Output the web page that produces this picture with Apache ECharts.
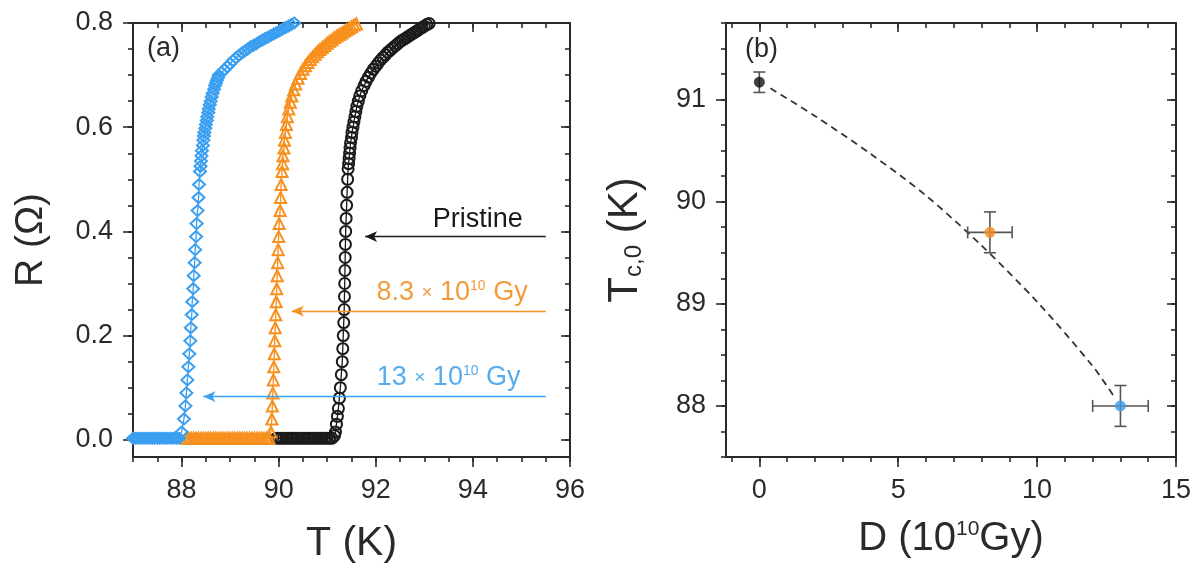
<!DOCTYPE html>
<html>
<head>
<meta charset="utf-8">
<title>R(T) and Tc,0 vs dose</title>
<script src="https://cdn.jsdelivr.net/npm/echarts@6/dist/echarts.min.js"></script>
<style>
  html, body { margin: 0; padding: 0; background: #fff; }
  #chart { width: 1197px; height: 571px; }
</style>
</head>
<body>
<div id="chart"></div>
<script>
// panel (a): R(T) curves, [T (K), R (Ohm)]
const pristine = [
  [89.95,0.003],[90.00,0.003],[90.05,0.003],[90.10,0.003],[90.15,0.003],[90.20,0.003],[90.25,0.003],[90.30,0.003],
  [90.35,0.003],[90.40,0.003],[90.45,0.003],[90.50,0.003],[90.55,0.003],[90.60,0.003],[90.65,0.003],[90.70,0.003],
  [90.75,0.003],[90.80,0.003],[90.85,0.003],[90.90,0.003],[90.95,0.003],[91.00,0.003],[91.05,0.003],[91.10,0.003],
  [91.15,0.008],[91.17,0.015],[91.19,0.03],[91.21,0.045],[91.23,0.06],[91.25,0.08],[91.27,0.10],[91.29,0.125],
  [91.31,0.15],[91.32,0.175],[91.33,0.20],[91.34,0.225],[91.35,0.25],[91.355,0.275],[91.36,0.30],[91.365,0.325],
  [91.37,0.35],[91.375,0.375],[91.38,0.40],[91.39,0.425],[91.40,0.45],[91.41,0.475],[91.42,0.50],[91.43,0.52],
  [91.44,0.53],[91.45,0.54],[91.46,0.55],[91.47,0.56],[91.48,0.57],[91.50,0.58],[91.51,0.59],[91.53,0.60],
  [91.55,0.61],[91.57,0.62],[91.59,0.63],[91.61,0.64],[91.64,0.65],[91.67,0.66],[91.71,0.67],[91.76,0.68],
  [91.80,0.688],[91.85,0.696],[91.90,0.704],[91.95,0.711],[92.00,0.717],[92.05,0.723],[92.10,0.729],[92.15,0.734],
  [92.20,0.739],[92.25,0.744],[92.30,0.748],[92.35,0.752],[92.40,0.756],[92.45,0.760],[92.50,0.764],[92.55,0.767],
  [92.60,0.770],[92.65,0.773],[92.70,0.776],[92.75,0.779],[92.80,0.782],[92.85,0.785],[92.90,0.788],[92.95,0.791],
  [93.00,0.794],[93.05,0.797],[93.10,0.799],[93.15,0.802],[93.20,0.804]
];
const dose83 = [
  [88.10,0.003],[88.15,0.003],[88.20,0.003],[88.25,0.003],[88.30,0.003],[88.35,0.003],[88.40,0.003],[88.45,0.003],
  [88.50,0.003],[88.55,0.003],[88.60,0.003],[88.65,0.003],[88.70,0.003],[88.75,0.003],[88.80,0.003],[88.85,0.003],
  [88.90,0.003],[88.95,0.003],[89.00,0.003],[89.05,0.003],[89.10,0.003],[89.15,0.003],[89.20,0.003],[89.25,0.003],
  [89.30,0.003],[89.35,0.003],[89.40,0.003],[89.45,0.003],[89.50,0.003],[89.55,0.003],[89.60,0.003],[89.65,0.003],
  [89.70,0.003],[89.75,0.003],[89.80,0.003],
  [89.84,0.015],[89.86,0.04],[89.87,0.065],[89.88,0.09],[89.89,0.115],[89.90,0.14],[89.91,0.165],[89.92,0.19],
  [89.93,0.215],[89.94,0.24],[89.95,0.265],[89.96,0.29],[89.97,0.315],[89.98,0.34],[89.99,0.365],[90.00,0.39],
  [90.01,0.415],[90.03,0.44],[90.04,0.465],[90.05,0.49],[90.07,0.515],[90.08,0.53],[90.09,0.545],[90.11,0.56],
  [90.12,0.575],[90.14,0.59],[90.16,0.605],[90.18,0.62],[90.21,0.635],[90.24,0.648],[90.27,0.66],[90.31,0.672],
  [90.35,0.683],[90.40,0.694],[90.45,0.703],[90.50,0.711],[90.55,0.718],[90.60,0.724],[90.65,0.730],[90.70,0.735],
  [90.75,0.740],[90.80,0.745],[90.85,0.749],[90.90,0.753],[90.95,0.757],[91.00,0.761],[91.05,0.765],[91.10,0.768],
  [91.15,0.772],[91.20,0.775],[91.25,0.778],[91.30,0.781],[91.35,0.784],[91.40,0.787],[91.45,0.790],[91.50,0.793],
  [91.55,0.796],[91.60,0.798],[91.65,0.801],[91.70,0.804]
];
const dose13 = [
  [87.00,0.003],[87.05,0.003],[87.10,0.003],[87.15,0.003],[87.20,0.003],[87.25,0.003],[87.30,0.003],[87.35,0.003],
  [87.40,0.003],[87.45,0.003],[87.50,0.003],[87.55,0.003],[87.60,0.003],[87.65,0.003],[87.70,0.003],[87.75,0.003],
  [87.80,0.003],[87.85,0.003],[87.90,0.003],[87.95,0.003],
  [88.00,0.015],[88.05,0.04],[88.08,0.065],[88.10,0.09],[88.12,0.115],[88.14,0.14],[88.16,0.165],[88.18,0.19],
  [88.19,0.215],[88.21,0.24],[88.22,0.265],[88.24,0.29],[88.25,0.315],[88.27,0.34],[88.28,0.365],[88.30,0.39],
  [88.31,0.415],[88.33,0.44],[88.35,0.465],[88.36,0.49],[88.38,0.515],[88.39,0.525],[88.40,0.535],[88.41,0.545],
  [88.42,0.555],[88.44,0.565],[88.45,0.575],[88.46,0.583],[88.47,0.59],[88.49,0.598],[88.50,0.605],[88.52,0.613],
  [88.53,0.62],[88.55,0.628],[88.56,0.635],[88.58,0.643],[88.60,0.65],[88.62,0.658],[88.64,0.665],[88.67,0.673],
  [88.69,0.68],[88.71,0.685],[88.73,0.69],[88.75,0.695],[88.77,0.70],[88.82,0.705],[88.88,0.71],[88.94,0.716],
  [89.00,0.722],[89.06,0.728],[89.12,0.733],[89.18,0.738],[89.24,0.742],[89.30,0.746],[89.36,0.75],[89.42,0.754],
  [89.48,0.757],[89.54,0.76],[89.60,0.764],[89.66,0.767],[89.72,0.77],[89.78,0.773],[89.84,0.776],[89.90,0.779],
  [89.96,0.782],[90.02,0.785],[90.08,0.788],[90.14,0.791],[90.20,0.794],[90.26,0.797],[90.32,0.80],[90.38,0.803]
];

// arrows and their labels in (a): pristine, 8.3e10 Gy, 13e10 Gy
const arrowStartT = 95.5;
const arrowTipT = [91.78, 90.27, 88.45];
const arrowR = [0.39, 0.247, 0.083];
const labelT = [94.1, 93.57, 93.5];
const labelR = [0.422, 0.282, 0.119];

// panel (b): Tc,0 vs dose
const dose = [0, 8.3, 13];
const doseErr = [0, 0.8, 1.0];
const tc0 = [91.17, 89.7, 88.0];
const tc0Err = [0.1, 0.2, 0.2];
const fitDose = [0.4, 2, 4, 6, 8, 10, 12, 12.8];
const fitTc = [91.11, 90.84, 90.47, 90.06, 89.57, 89.02, 88.39, 88.08];

// tick values
const tMajor = [88, 90, 92, 94, 96];
const tMinor = [87, 87.5, 88, 88.5, 89, 89.5, 90, 90.5, 91, 91.5, 92, 92.5, 93, 93.5, 94, 94.5, 95, 95.5, 96];
const rMajor = [0, 0.2, 0.4, 0.6, 0.8];
const rMinor = [0, 0.05, 0.1, 0.15, 0.2, 0.25, 0.3, 0.35, 0.4, 0.45, 0.5, 0.55, 0.6, 0.65, 0.7, 0.75, 0.8];
const dMajor = [0, 5, 10, 15];
const dMinor = [-1, 0, 1, 2, 3, 4, 5, 6, 7, 8, 9, 10, 11, 12, 13, 14, 15];
const tcMajor = [88, 89, 90, 91];
const tcMinor = [87.5, 87.75, 88, 88.25, 88.5, 88.75, 89, 89.25, 89.5, 89.75, 90, 90.25, 90.5, 90.75, 91, 91.25, 91.5, 91.75];

const FONT = '"Liberation Sans", Arial, Helvetica, sans-serif';
const INK = '#2a2a2a';
const BLACK = '#1a1a1a';
const ORANGE = '#f7901e';
const BLUE = '#3a9ff0';
const curveColors = [BLACK, ORANGE, BLUE];
const labelColors = ['#1a1a1a', '#f29a3e', '#56aced'];
const pointColors = ['#111111', '#f38b1d', '#3b9de6'];

let myChart = echarts.init(document.getElementById('chart'));

// one axis of the frame; major and minor ticks live on separate grids
let axis = (gridIndex, position, min, max, ticks, len, extra) => {
  return Object.assign({
    type: 'value',
    gridIndex: gridIndex,
    position: position,
    min: min,
    max: max,
    axisLine: { show: true, onZero: false, lineStyle: { color: INK, width: 2 } },
    axisTick: {
      show: true,
      inside: position === 'top' || position === 'right',
      length: len,
      customValues: ticks,
      lineStyle: { color: INK, width: 1.6 }
    },
    axisLabel: { show: false },
    splitLine: { show: false }
  }, extra || {});
};

let tickLabel = (values, fmt) => ({
  show: true,
  customValues: values,
  formatter: fmt,
  fontSize: 27,
  fontFamily: FONT,
  color: INK,
  margin: 20
});

const T_RANGE = [87, 96];
const R_RANGE = [-0.033, 0.8];
const D_RANGE = [-1.2, 15];
const TC_RANGE = [87.5, 91.75];

let xAxes = [
  axis(0, 'bottom', T_RANGE[0], T_RANGE[1], tMajor, 10, {
    axisLabel: tickLabel(tMajor, v => String(v)),
    name: 'T (K)', nameLocation: 'middle', nameGap: 66,
    nameTextStyle: { fontSize: 41, fontFamily: FONT, color: INK }
  }),
  axis(0, 'top', T_RANGE[0], T_RANGE[1], tMajor, 9),
  axis(1, 'bottom', T_RANGE[0], T_RANGE[1], tMinor, 5, { axisLine: { show: false, onZero: false } }),
  axis(1, 'top', T_RANGE[0], T_RANGE[1], tMinor, 5, { axisLine: { show: false, onZero: false } }),
  axis(2, 'bottom', D_RANGE[0], D_RANGE[1], dMajor, 10, {
    axisLabel: tickLabel(dMajor, v => String(v)),
    name: 'D (10{s|10}Gy)', nameLocation: 'middle', nameGap: 62,
    nameTextStyle: { fontSize: 40, fontFamily: FONT, color: INK,
      rich: { s: { fontSize: 21, fontFamily: FONT, color: INK, verticalAlign: 'top' } } }
  }),
  axis(2, 'top', D_RANGE[0], D_RANGE[1], dMajor, 9),
  axis(3, 'bottom', D_RANGE[0], D_RANGE[1], dMinor, 5, { axisLine: { show: false, onZero: false } }),
  axis(3, 'top', D_RANGE[0], D_RANGE[1], dMinor, 5, { axisLine: { show: false, onZero: false } })
];

let yAxes = [
  axis(0, 'left', R_RANGE[0], R_RANGE[1], rMajor, 10, {
    axisLabel: tickLabel(rMajor, v => v.toFixed(1)),
    name: 'R (\u03A9)', nameLocation: 'middle', nameGap: 82,
    nameTextStyle: { fontSize: 39, fontFamily: FONT, color: INK }
  }),
  axis(0, 'right', R_RANGE[0], R_RANGE[1], rMajor, 9),
  axis(1, 'left', R_RANGE[0], R_RANGE[1], rMinor, 5, { axisLine: { show: false, onZero: false } }),
  axis(1, 'right', R_RANGE[0], R_RANGE[1], rMinor, 5, { axisLine: { show: false, onZero: false } }),
  axis(2, 'left', TC_RANGE[0], TC_RANGE[1], tcMajor, 10, {
    axisLabel: tickLabel(tcMajor, v => String(v)),
    name: '{t|T}{s|c,0}{t| (K)}', nameLocation: 'middle', nameGap: 80,
    nameTextStyle: { fontSize: 42, fontFamily: FONT, color: INK,
      rich: {
        t: { fontSize: 42, fontFamily: FONT, color: INK },
        s: { fontSize: 24, fontFamily: FONT, color: INK, verticalAlign: 'bottom' }
      } }
  }),
  axis(2, 'right', TC_RANGE[0], TC_RANGE[1], tcMajor, 9),
  axis(3, 'left', TC_RANGE[0], TC_RANGE[1], tcMinor, 5, { axisLine: { show: false, onZero: false } }),
  axis(3, 'right', TC_RANGE[0], TC_RANGE[1], tcMinor, 5, { axisLine: { show: false, onZero: false } })
];

const leftBox = { left: 133, top: 23, width: 437, height: 434 };
const rightBox = { left: 726, top: 23, width: 450, height: 434 };
let grids = [leftBox, leftBox, rightBox, rightBox].map(b =>
  Object.assign({ containLabel: false, outerBoundsMode: 'none' }, b));

let doseLabel = (num, color) => ({
  show: true,
  position: 'inside',
  formatter: num + ' {x|\u00D7} 10{s|10} Gy',
  fontSize: 27,
  fontFamily: FONT,
  color: color,
  rich: {
    x: { fontSize: 19, fontFamily: FONT, color: color },
    s: { fontSize: 14, fontFamily: FONT, color: color, verticalAlign: 'top' }
  }
});
let curveLabels = [
  { show: true, position: 'inside', formatter: 'Pristine', fontSize: 27, fontFamily: FONT, color: labelColors[0] },
  doseLabel('8.3', labelColors[1]),
  doseLabel('13', labelColors[2])
];

let curve = (i, data, symbol, size) => ({
  type: 'line',
  xAxisIndex: 0,
  yAxisIndex: 0,
  data: data,
  symbol: symbol,
  symbolSize: size,
  showAllSymbol: true,
  clip: true,
  itemStyle: { color: 'rgba(0,0,0,0)', borderColor: curveColors[i], borderWidth: 2 },
  lineStyle: { color: curveColors[i], width: 1.3 },
  emphasis: { disabled: true },
  markLine: {
    silent: true,
    symbol: ['none', 'arrow'],
    symbolSize: [8, 12],
    label: { show: false },
    lineStyle: { color: curveColors[i], width: 1.3, type: 'solid' },
    data: [[{ coord: [arrowStartT, arrowR[i]] }, { coord: [arrowTipT[i], arrowR[i]] }]]
  },
  markPoint: {
    silent: true,
    symbol: 'circle',
    symbolSize: 1,
    itemStyle: { color: 'rgba(0,0,0,0)' },
    label: curveLabels[i],
    data: [{ coord: [labelT[i], labelR[i]] }]
  }
});

// error bars for panel (b)
let renderErrorBar = (params, api) => {
  const x = api.value(0), y = api.value(1), dx = api.value(2), dy = api.value(3);
  const style = { stroke: '#555', lineWidth: 1.6 };
  const cap = 6;
  const top = api.coord([x, y + dy]);
  const bot = api.coord([x, y - dy]);
  let kids = [
    { type: 'line', shape: { x1: top[0], y1: top[1], x2: bot[0], y2: bot[1] }, style: style },
    { type: 'line', shape: { x1: top[0] - cap, y1: top[1], x2: top[0] + cap, y2: top[1] }, style: style },
    { type: 'line', shape: { x1: bot[0] - cap, y1: bot[1], x2: bot[0] + cap, y2: bot[1] }, style: style }
  ];
  if (dx > 0) {
    const l = api.coord([x - dx, y]);
    const r = api.coord([x + dx, y]);
    kids.push(
      { type: 'line', shape: { x1: l[0], y1: l[1], x2: r[0], y2: r[1] }, style: style },
      { type: 'line', shape: { x1: l[0], y1: l[1] - cap, x2: l[0], y2: l[1] + cap }, style: style },
      { type: 'line', shape: { x1: r[0], y1: r[1] - cap, x2: r[0], y2: r[1] + cap }, style: style }
    );
  }
  return { type: 'group', children: kids };
};

myChart.setOption({
  animation: false,
  backgroundColor: '#fff',
  grid: grids,
  xAxis: xAxes,
  yAxis: yAxes,
  graphic: [
    { type: 'text', left: 147, top: 35, style: { text: '(a)', font: '27px ' + FONT, fill: INK } },
    { type: 'text', left: 745, top: 36, style: { text: '(b)', font: '27px ' + FONT, fill: INK } }
  ],
  series: [
    curve(0, pristine, 'circle', 11),
    curve(1, dose83, 'triangle', 11),
    curve(2, dose13, 'diamond', [12, 11]),
    {
      type: 'line',
      xAxisIndex: 4,
      yAxisIndex: 4,
      data: fitDose.map((d, i) => [d, fitTc[i]]),
      showSymbol: false,
      smooth: 0.3,
      lineStyle: { color: '#333', width: 1.8, type: [7, 5] },
      emphasis: { disabled: true },
      z: 2
    },
    {
      type: 'custom',
      xAxisIndex: 4,
      yAxisIndex: 4,
      renderItem: renderErrorBar,
      data: dose.map((d, i) => [d, tc0[i], doseErr[i], tc0Err[i]]),
      z: 3
    },
    {
      type: 'scatter',
      xAxisIndex: 4,
      yAxisIndex: 4,
      symbolSize: 11,
      data: dose.map((d, i) => ({ value: [d, tc0[i]], itemStyle: { color: pointColors[i] } })),
      emphasis: { disabled: true },
      z: 4
    }
  ]
});

window.addEventListener('resize', function () {
  myChart.resize();
});
</script>
</body>
</html>
